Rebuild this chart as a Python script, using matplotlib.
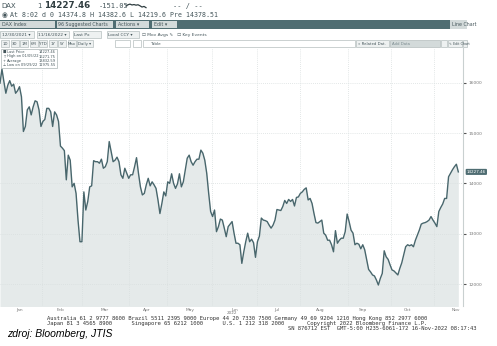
import numpy as np
import matplotlib
matplotlib.use('Agg')
import matplotlib.pyplot as plt
from matplotlib.patches import Rectangle
from matplotlib.transforms import blended_transform_factory

# %% Data: DAX daily closes, 12/30/2021 - 11/16/2022

dax_close = [
    15990, 16270, 16020, 15790, 15950, 16040, 15930, 15970, 15790, 15840,
    15920, 15720, 15030, 15130, 15460, 15520, 15360, 15520, 15640, 15620,
    15460, 15130, 15230, 15270, 15490, 15490, 15420, 15130, 15420, 15360,
    15230, 14740, 14700, 14650, 14070, 14560, 14460, 13930, 14000, 13800,
    13270, 12840, 12840, 13830, 13470, 13640, 13930, 13950, 14450, 14430,
    14430, 14400, 14480, 14300, 14330, 14430, 14830, 14630, 14430, 14460,
    14520, 14430, 14170, 14100, 14300, 14200, 14100, 14170, 14170, 14330,
    14510, 14200, 13930, 13770, 13800, 13970, 14100, 13950, 14030, 13970,
    13900, 13670, 13400, 13600, 13830, 13750, 14030, 14000, 14190, 14000,
    13900, 13990, 14190, 13930, 14030, 14270, 14500, 14560, 14430, 14360,
    14430, 14480, 14480, 14660, 14600, 14460, 14200, 13800, 13440, 13340,
    13470, 13040, 13140, 13290, 13270, 13110, 12940, 13140, 13190, 13240,
    13010, 12810, 12810, 12780, 12410, 12640, 12840, 13010, 12840, 12890,
    12820, 12530, 12840, 12950, 13310, 13270, 13260, 13240, 13170, 13110,
    13170, 13270, 13480, 13470, 13460, 13540, 13660, 13600, 13680, 13640,
    13680, 13550, 13720, 13730, 13800, 13830, 13880, 13910, 13670, 13700,
    13600, 13400, 13220, 13210, 13240, 13270, 13010, 12970, 12870, 12870,
    12780, 12640, 13060, 12810, 12870, 12910, 12910, 13040, 13390, 13240,
    13070, 13010, 12780, 12810, 12790, 12700, 12780, 12680, 12480, 12290,
    12240, 12180, 12160, 12080, 11980, 12110, 12210, 12660, 12540, 12490,
    12380, 12280, 12260, 12220, 12180, 12310, 12420, 12580, 12740, 12780,
    12760, 12780, 12740, 12870, 12970, 13070, 13190, 13210, 13220, 13240,
    13270, 13340, 13270, 13210, 13140, 13440, 13520, 13590, 13700, 13700,
    14130, 14200, 14270, 14330, 14380, 14227.46,
]

months = ['Jan', 'Feb', 'Mar', 'Apr', 'May', 'Jun', 'Jul', 'Aug', 'Sep', 'Oct', 'Nov']
y_ticks = [12000, 13000, 14000, 15000, 16000]

legend_rows = [
    ('Last Price', '14227.46'),
    ('High on 01/05/22', '16271.75'),
    ('Average', '13832.59'),
    ('Low on 09/29/22', '11975.55'),
]
legend_marks = ['\u25a0', 'T', '+', '\u22a5']

footer_lines = [
    'Australia 61 2 9777 8600 Brazil 5511 2395 9000 Europe 44 20 7330 7500 '
    'Germany 49 69 9204 1210 Hong Kong 852 2977 6000',
    'Japan 81 3 4565 8900      Singapore 65 6212 1000      U.S. 1 212 318 2000'
    '       Copyright 2022 Bloomberg Finance L.P.',
]
footer_stamp = 'SN 876712 EST  GMT-5:00 H235-6061-172 16-Nov-2022 08:17:43'

# %% Layout helpers (pixel -> figure fraction)

W, H = 497, 346
def fx(x):
    return x / W
def fy(y):
    return 1 - y / H

LINE = '#48666c'
FILL = '#e5eaea'
DARK = '#4f6d72'
BTN = '#d3dada'
GRID = '#d9dfdf'
TXT = '#44555a'

# month boundary and label positions in trading-day index
month_edges = [21.5, 42, 66, 85.6, 108.7, 131.8, 153.8, 178.5, 200.5, 222.6]
month_mid = [10.3, 30.8, 53.8, 75.4, 97.4, 120.5, 142, 164, 186, 208.7, 233.8]

fig = plt.figure(figsize=(W / 100, H / 100), dpi=100)

# %% Price chart

ax = fig.add_axes([fx(0), fy(306), fx(463), fy(48) - fy(306)])
x = np.arange(len(dax_close))
ax.fill_between(x, dax_close, 11000, color=FILL, lw=0, zorder=1)
ax.plot(x, dax_close, color=LINE, lw=1.0, zorder=3)
ax.set_xlim(0, 237.4)
ax.set_ylim(11563, 16689)

for e in month_edges:
    ax.axvline(e, color=GRID, lw=0.6, ls=(0, (1, 1.5)), zorder=2)
for t in y_ticks:
    ax.axhline(t, color=GRID, lw=0.6, ls=(0, (1, 1.5)), zorder=2)

ax.yaxis.tick_right()
ax.set_yticks(y_ticks)
ax.set_yticklabels([str(t) for t in y_ticks], fontsize=3.2, color='#777777')
ax.tick_params(axis='y', length=2, width=0.8, color='#555555', pad=2)
ax.set_xticks(month_mid)
ax.set_xticklabels(months, fontsize=3.2, color='#777777')
ax.tick_params(axis='x', length=0, pad=1.5)
for s in ['top', 'left', 'bottom']:
    ax.spines[s].set_visible(False)
ax.spines['right'].set_color('#c9d0d0')
ax.spines['right'].set_linewidth(0.8)

# last price tag on the right axis
tr = blended_transform_factory(ax.transAxes, ax.transData)
ax.text(1.008, dax_close[-1], '%.2f' % dax_close[-1], transform=tr, fontsize=3.0,
        color='white', va='center', ha='left', zorder=5,
        bbox=dict(boxstyle='round,pad=0.25', fc=DARK, ec='none'))

fig.text(fx(232), fy(313), '2022', fontsize=3.0, color='#777777', ha='center', va='center')

# legend box in the upper left
fig.patches.append(Rectangle((fx(1), fy(68)), fx(56), fy(49) - fy(68),
                             transform=fig.transFigure, fc='white', ec='#aab4b4', lw=0.5, zorder=4))
for i, ((lab, val), mk) in enumerate(zip(legend_rows, legend_marks)):
    yy = fy(52 + i * 4.5)
    fig.text(fx(3), yy, mk, fontsize=2.6, color=TXT, va='center', zorder=5)
    fig.text(fx(7), yy, lab, fontsize=2.6, color=TXT, va='center', zorder=5)
    fig.text(fx(56), yy, val, fontsize=2.6, color=TXT, va='center', ha='right', zorder=5)

# %% Terminal header rows

def box(x0, y0, x1, y1, fc, ec='none'):
    fig.patches.append(Rectangle((fx(x0), fy(y1)), fx(x1 - x0), fy(y0) - fy(y1),
                                 transform=fig.transFigure, fc=fc, ec=ec, lw=0.5))

fig.text(fx(1), fy(6), 'DAX', fontsize=5.0, color=TXT, va='center')
fig.text(fx(37), fy(6), '1', fontsize=5.0, color=TXT, va='center')
fig.text(fx(44), fy(6), '14227.46', fontsize=6.3, color='#2f3d40', va='center', weight='bold')
fig.text(fx(99), fy(6), '-151.05', fontsize=5.0, color=TXT, va='center', family='DejaVu Sans Mono')
# small intraday sparkline next to the change
spark = [0.0, 0.6, 0.9, 0.5, 0.7, 0.4, 0.6, 0.1, -0.5, -0.2, -0.8]
sx = np.linspace(fx(126), fx(146), len(spark))
fig.add_artist(plt.Line2D(sx, fy(6) + np.array(spark) * 0.006, color='#2f3d40', lw=0.9,
                          transform=fig.transFigure))
fig.text(fx(173), fy(6), '-- / --', fontsize=5.0, color=TXT, va='center', family='DejaVu Sans Mono')
fig.text(fx(1.5), fy(15), '\u25c9', fontsize=4.8, color=TXT, va='center')
fig.text(fx(10), fy(15), 'At 8:02 d 0 14374.8 H 14382.6 L 14219.6 Pre 14378.51',
         fontsize=4.75, color=TXT, va='center', family='DejaVu Sans Mono')

box(0, 20, 450, 29, DARK)
box(450, 20, 467, 29, BTN)
for x0, x1, lab in [(0, 55, 'DAX Index'), (57, 113, '96 Suggested Charts'),
                    (116, 149, 'Actions \u25be'), (152, 177, 'Edit \u25be')]:
    box(x0, 21, x1, 28, BTN)
    fig.text(fx(x0 + 1.5), fy(24.7), lab, fontsize=3.4, color=TXT, va='center')
fig.text(fx(452), fy(24.7), 'Line Chart', fontsize=3.4, color=TXT, va='center')

for x0, x1, lab in [(0, 34, '12/30/2021 \u25be'), (37, 69, '11/16/2022 \u25be'),
                    (73, 101, 'Last Px'), (107, 139, 'Local CCY \u25be')]:
    box(x0, 31, x1, 38, '#eef1f1', '#b5bebe')
    fig.text(fx(x0 + 1.5), fy(34.6), lab, fontsize=3.2, color=TXT, va='center')
fig.text(fx(142), fy(34.6), '\u2610 Mov Avgs \u270e   \u2610 Key Events', fontsize=3.2,
         color=TXT, va='center')

x0 = 1
for lab in ['1D', '3D', '1M', '6M', 'YTD', '1Y', '5Y', 'Max', 'Daily \u25be']:
    w = 8 if len(lab) < 4 else 16
    box(x0, 40, x0 + w, 47, '#eef1f1', '#b5bebe')
    fig.text(fx(x0 + w / 2), fy(43.6), lab, fontsize=2.8, color=TXT, va='center', ha='center')
    x0 += w + 1.5
box(115, 40, 130, 47, 'white', '#b5bebe')
box(133, 40, 141, 47, 'white', '#b5bebe')
box(143, 40, 355, 47, 'white', '#b5bebe')
fig.text(fx(150), fy(43.6), 'Table', fontsize=3.0, color=TXT, va='center')
box(356, 40, 389, 47, '#eef1f1', '#b5bebe')
fig.text(fx(358), fy(43.6), '\u00ab Related Dat.', fontsize=2.8, color=TXT, va='center')
box(390, 40, 440, 47, BTN, '#b5bebe')
fig.text(fx(392), fy(43.6), 'Add Data', fontsize=2.8, color='#7a8a8e', va='center')
box(441, 40, 447, 47, '#eef1f1', '#b5bebe')
box(448, 40, 462, 47, '#eef1f1', '#b5bebe')
fig.text(fx(449), fy(43.6), '\u270e Edit Chart', fontsize=2.4, color=TXT, va='center')
box(463, 40, 467, 47, '#eef1f1', '#b5bebe')

# %% Footer

for i, line in enumerate(footer_lines):
    fig.text(fx(47), fy(318.5 + i * 5.2), line, fontsize=3.95, color='#333333',
             va='center', family='DejaVu Sans Mono')
fig.text(fx(288), fy(329), footer_stamp, fontsize=3.95, color='#333333',
         va='center', family='DejaVu Sans Mono')

fig.text(fx(7), fy(334), 'zdroj: Bloomberg, JTIS', fontsize=7.5, style='italic',
         color='black', va='center', family='Liberation Sans')

fig.savefig('out.png', dpi=100)
